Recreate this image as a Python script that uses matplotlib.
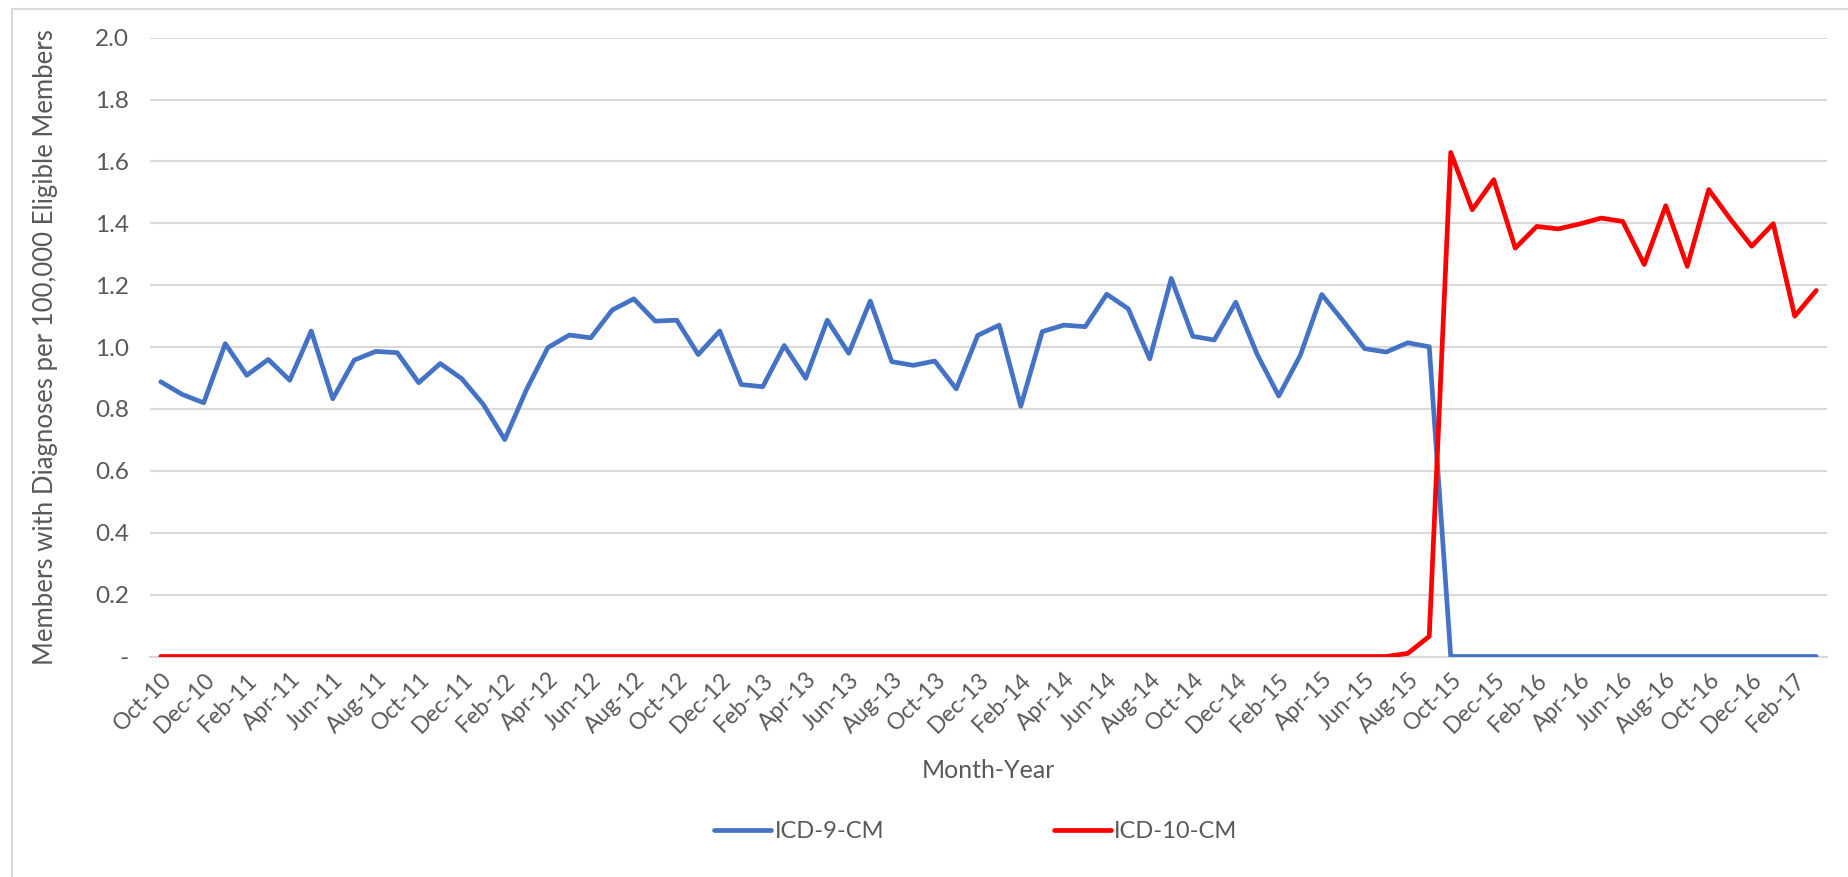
import numpy as np
import pandas as pd
import matplotlib
matplotlib.use("Agg")
import matplotlib.pyplot as plt
from matplotlib.patches import Rectangle
from matplotlib.ticker import FuncFormatter

COLOR_ICD9  = "#4472C4"
COLOR_ICD10 = "#FF0000"
COLOR_TEXT  = "#595959"
COLOR_GRID  = "#D9D9D9"

# Oct-10 .. Mar-17, one value per month
meses = pd.date_range("2010-10-01", periods=78, freq="MS")
etiquetas = [m.strftime("%b-%y") for m in meses]

icd9 = [0.888, 0.847, 0.820, 1.011, 0.909, 0.960, 0.893, 1.052, 0.833, 0.958,
        0.986, 0.982, 0.885, 0.947, 0.898, 0.815, 0.701, 0.861, 0.998, 1.039,
        1.030, 1.120, 1.156, 1.084, 1.087, 0.976, 1.052, 0.879, 0.872, 1.005,
        0.899, 1.087, 0.980, 1.149, 0.953, 0.941, 0.955, 0.865, 1.038, 1.071,
        0.809, 1.050, 1.071, 1.066, 1.171, 1.124, 0.962, 1.222, 1.035, 1.023,
        1.145, 0.976, 0.842, 0.973, 1.170, 1.084, 0.995, 0.984, 1.014, 1.001,
        0, 0, 0, 0, 0, 0, 0, 0, 0, 0,
        0, 0, 0, 0, 0, 0, 0, 0]

icd10 = [0] * 58 + [0.010, 0.065,
         1.629, 1.444, 1.541, 1.320, 1.390, 1.382, 1.398, 1.417, 1.406, 1.267,
         1.457, 1.261, 1.509, 1.414, 1.326, 1.399, 1.100, 1.183]

plt.rcParams["font.family"] = ["Lato", "DejaVu Sans"]

fig = plt.figure(figsize=(18.48, 8.77), dpi=100)
ax = fig.add_axes([150 / 1848, 220.5 / 877, (1827 - 150) / 1848, (656.5 - 37.7) / 877])

x = np.arange(len(etiquetas))
ax.plot(x, icd9, color=COLOR_ICD9, linewidth=3.4, solid_joinstyle="round",
        solid_capstyle="round", label="ICD-9-CM", zorder=3)
ax.plot(x, icd10, color=COLOR_ICD10, linewidth=3.4, solid_joinstyle="round",
        solid_capstyle="round", label="ICD-10-CM", zorder=4)

ax.set_xlim(-0.5, len(etiquetas) - 0.5)
ax.set_ylim(0, 2.0)
ax.set_yticks(np.arange(0, 2.01, 0.2))
ax.yaxis.set_major_formatter(FuncFormatter(lambda v, p: " -" if abs(v) < 1e-9 else f"{v:.1f}"))
ax.grid(axis="y", color=COLOR_GRID, linewidth=1.5)
ax.set_axisbelow(True)
for s in ["top", "right", "left"]:
    ax.spines[s].set_visible(False)
ax.spines["bottom"].set_color(COLOR_GRID)
ax.spines["bottom"].set_linewidth(1.5)

ax.set_xticks(x[::2])
ax.set_xticklabels(etiquetas[::2], rotation=45, ha="right", rotation_mode="anchor")
ax.tick_params(axis="x", length=0, pad=9, labelsize=16.5, labelcolor=COLOR_TEXT)
ax.tick_params(axis="y", length=0, pad=15, labelsize=17.5, labelcolor=COLOR_TEXT)

ax.set_xlabel("Month-Year", fontsize=18, color=COLOR_TEXT)
ax.xaxis.set_label_coords(0.5, -0.166)
ax.set_ylabel("Members with Diagnoses per 100,000 Eligible Members", fontsize=18.5,
              color=COLOR_TEXT)
ax.yaxis.set_label_coords(-0.055, 0.5)

leg = fig.legend(loc="center", bbox_to_anchor=(976 / 1848, 1 - 832 / 877), ncol=2,
                 frameon=False, fontsize=17, handlelength=2.4, handletextpad=0.15,
                 columnspacing=7.2, labelcolor=COLOR_TEXT)

fig.add_artist(Rectangle((12 / 1848, -0.05), 1.2, 1 - 9 / 877 + 0.05,
                         transform=fig.transFigure, fill=False,
                         edgecolor=COLOR_GRID, linewidth=1.5))

fig.savefig("out.png", dpi=100)
